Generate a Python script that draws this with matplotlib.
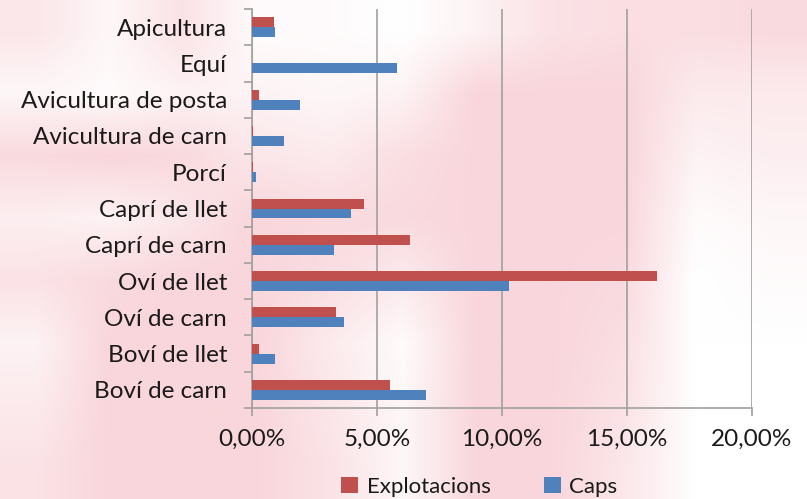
import numpy as np
from matplotlib import pyplot as plt
from matplotlib.ticker import FuncFormatter

plt.rcParams['font.family'] = ['Lato', 'DejaVu Sans']

# Dades (de dalt a baix al grafic)
categories = ['Apicultura', 'Equí', 'Avicultura de posta', 'Avicultura de carn',
              'Porcí', 'Caprí de llet', 'Caprí de carn', 'Oví de llet',
              'Oví de carn', 'Boví de llet', 'Boví de carn']
explotacions = [0.0088, 0.0, 0.0027, 0.0005, 0.0005, 0.0446, 0.0630, 0.1620,
                0.0334, 0.0027, 0.0550]
caps = [0.0093, 0.0580, 0.0190, 0.0128, 0.0016, 0.0395, 0.0328, 0.1027,
        0.0366, 0.0093, 0.0697]
xticks = [0.0, 0.05, 0.10, 0.15, 0.20]

fig = plt.figure(figsize=(8.07, 4.99), dpi=100)

# fons rosat difuminat (marca d'aigua)
fons = np.array([
    [0.6, 0.2, 0.7, 0.1, 0.1, 0.0, 0.3, 0.7, 0.8, 0.8, 0.9],
    [0.2, 0.1, 0.3, 0.3, 0.2, 0.3, 1.0, 1.0, 1.0, 0.5, 0.5],
    [0.9, 1.0, 0.9, 0.6, 0.5, 0.8, 1.0, 1.0, 1.0, 0.3, 0.4],
    [0.4, 0.3, 0.6, 1.0, 0.9, 0.9, 1.0, 1.0, 1.0, 0.1, 0.2],
    [0.7, 0.9, 1.0, 1.0, 0.8, 0.5, 1.0, 1.0, 0.9, 0.0, 0.1],
    [0.3, 1.0, 1.0, 1.0, 0.5, 0.1, 1.0, 1.0, 0.8, 0.0, 0.0],
    [0.5, 1.0, 1.0, 1.0, 0.6, 0.2, 1.0, 1.0, 0.7, 0.0, 0.0],
    [0.7, 1.0, 1.0, 1.0, 0.7, 0.2, 1.0, 1.0, 0.6, 0.0, 0.0],
])
rosa = np.array([249, 214, 219]) / 255.0
img = 1 - fons[..., None] * (1 - rosa)
bg = fig.add_axes([0, 0, 1, 1], zorder=-1)
bg.imshow(img, aspect='auto', interpolation='bilinear', extent=[0, 1, 0, 1])
bg.axis('off')

ax = fig.add_axes([252 / 807, 1 - 408 / 499, 500 / 807, 399 / 499])
ax.patch.set_alpha(0)

n = len(categories)
y = np.arange(n)[::-1]
h = 0.275
ax.barh(y + h / 2, explotacions, height=h, color='#C0504D', label='Explotacions', zorder=3)
ax.barh(y - h / 2, caps, height=h, color='#4F81BD', label='Caps', zorder=3)

ax.set_xlim(0, 0.20)
ax.set_ylim(-0.5, n - 0.5)
ax.set_xticks(xticks)
ax.xaxis.set_major_formatter(FuncFormatter(lambda v, p: ('%.2f%%' % (v * 100)).replace('.', ',')))
ax.grid(axis='x', color='#A0A0A0', linewidth=1.2, zorder=0)

ax.set_yticks(np.arange(n + 1) - 0.5)
ax.set_yticklabels([])
ax.set_yticks(y, minor=True)
ax.set_yticklabels(categories, minor=True)
ax.tick_params(axis='y', which='major', length=6, color='#A0A0A0', width=1.2)
ax.tick_params(axis='y', which='minor', length=0, pad=18, labelsize=17.5, labelcolor='#1a1a1a')
ax.tick_params(axis='x', length=6, color='#A0A0A0', width=1.2, pad=9, labelsize=17.5,
               labelcolor='#1a1a1a')

for s in ['top', 'right']:
    ax.spines[s].set_visible(False)
for s in ['left', 'bottom']:
    ax.spines[s].set_color('#A0A0A0')
    ax.spines[s].set_linewidth(1.2)

leg = fig.legend(loc='center', bbox_to_anchor=(0.594, 1 - 487 / 499), ncol=2, frameon=False,
                 fontsize=16, handlelength=0.75, handleheight=0.75, handletextpad=0.4,
                 columnspacing=2.4)
for t in leg.get_texts():
    t.set_color('#1a1a1a')

fig.savefig('out.png', dpi=100)
